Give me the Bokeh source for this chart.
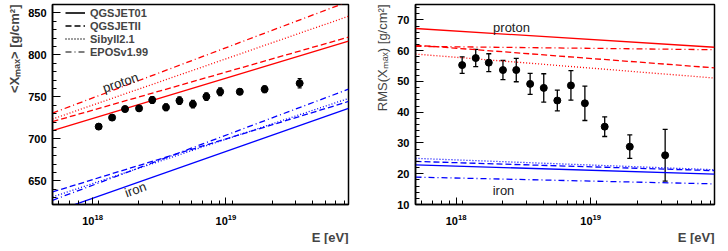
import math
from bokeh.plotting import figure
from bokeh.layouts import row
from bokeh.models import (ColumnDataSource, Whisker, TeeHead, Label, Legend, LegendItem,
                          SingleIntervalTicker, LogTicker, Range1d, Title)
from bokeh.embed import file_html
from bokeh.resources import INLINE

# ---------------- data ----------------
energy = [1.11e18, 1.40e18, 1.75e18, 2.23e18, 2.80e18, 3.55e18, 4.48e18,
          5.65e18, 7.13e18, 9.05e18, 1.27e19, 1.95e19, 3.57e19]
xmax_mean = [714.7, 725.4, 735.6, 736.4, 746.4, 737.6, 745.6,
             741.4, 750.4, 756.2, 756.2, 759.2, 766.3]
xmax_err = [3.0, 3.0, 3.0, 3.5, 4.0, 4.0, 4.5, 4.5, 4.5, 4.5, 3.5, 4.0, 5.5]
xmax_rms = [55.3, 57.6, 56.1, 53.7, 53.7, 49.2, 47.9, 43.8, 48.7, 42.9, 35.3, 28.8, 26.0]
rms_err = [2.7, 2.8, 2.9, 3.1, 3.8, 3.4, 4.6, 3.4, 4.8, 5.6, 3.2, 3.8, 8.4]

models = ["QGSJET01", "QGSJETII", "Sibyll2.1", "EPOSv1.99"]
model_energy = [5e17, 8.3e19]
# <Xmax> predictions (value at model_energy ends)
xmax_proton = {
    "QGSJET01": [710.0, 816.5],
    "QGSJETII": [720.6, 821.2],
    "Sibyll2.1": [723.7, 846.0],
    "EPOSv1.99": [730.8, 863.5],
}
xmax_iron = {
    "QGSJET01": [612.6, 736.4],
    "QGSJETII": [637.0, 744.6],
    "Sibyll2.1": [631.0, 748.2],
    "EPOSv1.99": [627.0, 759.2],
}
# RMS(Xmax) predictions
rms_proton = {
    "QGSJET01": [67.2, 61.1],
    "QGSJETII": [61.8, 54.4],
    "Sibyll2.1": [58.9, 51.1],
    "EPOSv1.99": [61.4, 60.3],
}
rms_iron = {
    "QGSJET01": [22.9, 19.9],
    "QGSJETII": [24.0, 21.0],
    "Sibyll2.1": [25.0, 21.3],
    "EPOSv1.99": [18.9, 16.7],
}

# ---------------- styles ----------------
dash = {"QGSJET01": "solid", "QGSJETII": "6 3", "Sibyll2.1": "1 2", "EPOSv1.99": "6 3 1 3"}
legend_color = {"QGSJET01": "black", "QGSJETII": "black", "Sibyll2.1": "black", "EPOSv1.99": "#555555"}
FONT = "Liberation Sans"


def style_axes(p, y_interval):
    for ax in (p.xaxis[0], p.yaxis[0]):
        ax.major_tick_out = 0
        ax.minor_tick_out = 0
        ax.axis_line_color = "black"
        ax.axis_line_width = 1.5
        ax.major_tick_line_color = "black"
        ax.minor_tick_line_color = "black"
        ax.major_label_text_font = FONT
        ax.major_label_text_font_style = "bold"
        ax.major_label_text_font_size = "11px"
        ax.major_label_text_color = "black"
    p.xaxis[0].major_tick_in = 7
    p.xaxis[0].minor_tick_in = 4
    p.yaxis[0].major_tick_in = 8
    p.yaxis[0].minor_tick_in = 4
    p.xaxis[0].major_label_standoff = 9
    p.yaxis[0].major_label_standoff = 6
    p.xaxis[0].ticker = LogTicker(num_minor_ticks=9)
    p.yaxis[0].ticker = SingleIntervalTicker(interval=y_interval, num_minor_ticks=5)
    p.xgrid.visible = False
    p.ygrid.visible = False
    p.outline_line_color = "black"
    p.outline_line_width = 1.5
    p.outline_line_alpha = 1.0


def make_fig(y_range, frame_w, border_left, border_right):
    p = figure(x_axis_type="log", x_range=Range1d(model_energy[0], model_energy[1]),
               y_range=Range1d(*y_range), frame_width=frame_w, frame_height=200,
               min_border_left=border_left, min_border_right=border_right,
               min_border_top=4, min_border_bottom=35,
               output_backend="svg", toolbar_location=None,
               background_fill_color="white", border_fill_color="white")
    return p


def add_titles(p, ytext, ybold, ystandoff):
    p.add_layout(Title(text="E [eV]", align="right", text_font=FONT, text_font_size="13px",
                       text_font_style="bold", standoff=0), "below")
    p.add_layout(Title(text=ytext, align="right", text_font=FONT, text_font_size="13px",
                       text_font_style="bold" if ybold else "normal",
                       standoff=ystandoff), "left")


# ---------------- left panel: <Xmax> ----------------
p1 = make_fig((622, 860), 296, 51, 8)
style_axes(p1, 50)
add_titles(p1, "<X\u2098\u2090\u2093> [g/cm\u00b2]", True, 8)

for m in models:
    p1.line(model_energy, xmax_proton[m], line_color="red", line_width=1.3, line_dash=dash[m])
    p1.line(model_energy, xmax_iron[m], line_color="blue", line_width=1.3, line_dash=dash[m])

src1 = ColumnDataSource(dict(x=energy, y=xmax_mean,
                             lo=[v - e for v, e in zip(xmax_mean, xmax_err)],
                             hi=[v + e for v, e in zip(xmax_mean, xmax_err)]))
p1.add_layout(Whisker(source=src1, base="x", lower="lo", upper="hi", dimension="height",
                      line_color="black", line_width=1.3,
                      lower_head=TeeHead(size=4, line_color="black", line_width=1.3),
                      upper_head=TeeHead(size=4, line_color="black", line_width=1.3)))
p1.scatter("x", "y", source=src1, size=7, color="black")

items = []
nan = float("nan")
for m in models:
    r = p1.line(model_energy, [nan, nan], line_color=legend_color[m], line_width=1.6,
                line_dash=dash[m])
    items.append(LegendItem(label=m, renderers=[r]))
leg = Legend(items=items, location=(11, 144), padding=2, margin=0, spacing=0,
             glyph_height=13, label_height=13, glyph_width=20, label_standoff=5,
             border_line_alpha=0, background_fill_alpha=0,
             label_text_font=FONT, label_text_font_style="bold", label_text_font_size="11px")
p1.add_layout(leg)

p1.add_layout(Label(x=68, y=122, x_units="screen", y_units="screen", text="proton",
                    angle=0.33, text_align="center", text_baseline="middle",
                    text_font=FONT, text_font_size="13px", text_color="#222222"))
p1.add_layout(Label(x=83, y=15, x_units="screen", y_units="screen", text="iron",
                    angle=0.35, text_align="center", text_baseline="middle",
                    text_font=FONT, text_font_size="13px", text_color="#222222"))

# ---------------- right panel: RMS(Xmax) ----------------
p2 = make_fig((10, 75), 299, 59, 3)
style_axes(p2, 10)
add_titles(p2, "RMS(X\u2098\u2090\u2093) [g/cm\u00b2]", False, 10)

for m in models:
    p2.line(model_energy, rms_proton[m], line_color="red", line_width=1.3, line_dash=dash[m])
    p2.line(model_energy, rms_iron[m], line_color="blue", line_width=1.3, line_dash=dash[m])

src2 = ColumnDataSource(dict(x=energy, y=xmax_rms,
                             lo=[v - e for v, e in zip(xmax_rms, rms_err)],
                             hi=[v + e for v, e in zip(xmax_rms, rms_err)]))
p2.add_layout(Whisker(source=src2, base="x", lower="lo", upper="hi", dimension="height",
                      line_color="black", line_width=1.3,
                      lower_head=TeeHead(size=5, line_color="black", line_width=1.3),
                      upper_head=TeeHead(size=5, line_color="black", line_width=1.3)))
p2.scatter("x", "y", source=src2, size=7, color="black")

p2.add_layout(Label(x=96, y=177, x_units="screen", y_units="screen", text="proton",
                    text_align="center", text_baseline="middle",
                    text_font=FONT, text_font_size="13px", text_color="#222222"))
p2.add_layout(Label(x=88, y=14, x_units="screen", y_units="screen", text="iron",
                    text_align="center", text_baseline="middle",
                    text_font=FONT, text_font_size="13px", text_color="#222222"))

layout = row(p1, p2, spacing=0)
open("out.html", "w").write(file_html(layout, INLINE))
